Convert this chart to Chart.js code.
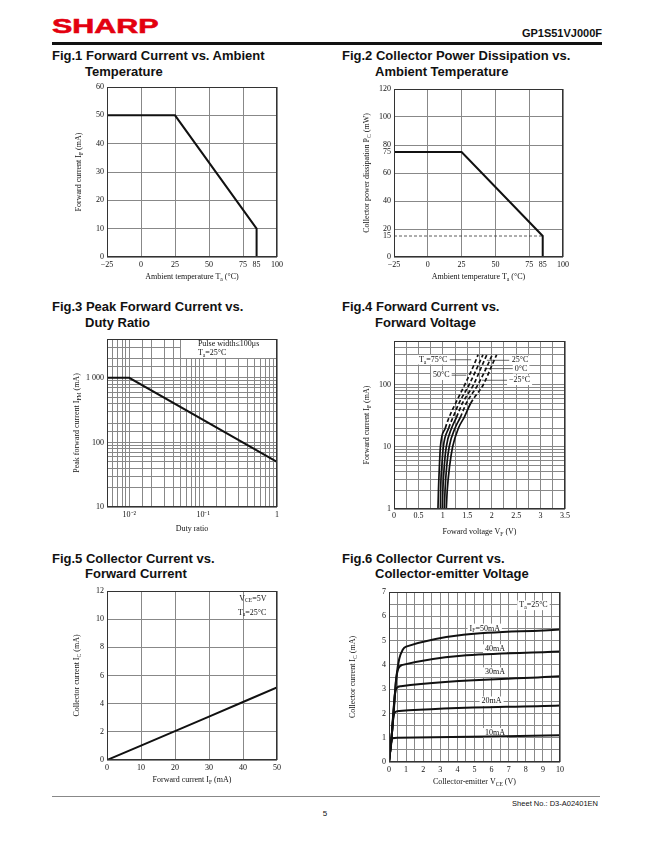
<!DOCTYPE html>
<html>
<head>
<meta charset="utf-8">
<script src="https://cdn.jsdelivr.net/npm/chart.js@4.4.1/dist/chart.umd.min.js"></script>
<style>
  body { margin: 0; background: #fff; width: 650px; height: 841px; position: relative; overflow: hidden;
         font-family: "Liberation Sans", Arial, sans-serif; }
  .abs { position: absolute; white-space: nowrap; }
  .ttl { font-size: 13px; line-height: 13px; font-weight: bold; color: #111; }
  canvas { position: absolute; }
</style>
</head>
<body>
<div class="abs" style="left:52px;top:15px;font-size:21px;line-height:21px;font-weight:bold;color:#e3000f;-webkit-text-stroke:0.6px #e3000f;transform:scaleX(1.45);transform-origin:0 0;">SHARP</div>
<div class="abs" style="right:48px;top:27.5px;font-size:11px;line-height:11px;font-weight:bold;color:#111;">GP1S51VJ000F</div>
<div class="abs" style="left:52px;top:42px;width:550px;height:3px;background:#111;"></div>

<div class="abs ttl" style="left:52px;top:48.5px">Fig.1 Forward Current vs. Ambient</div>
<div class="abs ttl" style="left:85px;top:64.5px">Temperature</div>
<div class="abs ttl" style="left:342px;top:48.5px">Fig.2 Collector Power Dissipation vs.</div>
<div class="abs ttl" style="left:375px;top:64.5px">Ambient Temperature</div>
<div class="abs ttl" style="left:52px;top:300px">Fig.3 Peak Forward Current vs.</div>
<div class="abs ttl" style="left:85px;top:315.5px">Duty Ratio</div>
<div class="abs ttl" style="left:342px;top:300px">Fig.4 Forward Current vs.</div>
<div class="abs ttl" style="left:375px;top:315.5px">Forward Voltage</div>
<div class="abs ttl" style="left:52px;top:551.5px">Fig.5 Collector Current vs.</div>
<div class="abs ttl" style="left:85px;top:567px">Forward Current</div>
<div class="abs ttl" style="left:342px;top:551.5px">Fig.6 Collector Current vs.</div>
<div class="abs ttl" style="left:375px;top:567px">Collector-emitter Voltage</div>

<canvas id="fig1"></canvas>
<canvas id="fig2"></canvas>
<canvas id="fig3"></canvas>
<canvas id="fig4"></canvas>
<canvas id="fig5"></canvas>
<canvas id="fig6"></canvas>

<div class="abs" style="left:52px;top:796px;width:548px;height:1px;background:#888;"></div>
<div class="abs" style="right:52px;top:800px;font-size:7.5px;line-height:8px;color:#111;">Sheet No.: D3-A02401EN</div>
<div class="abs" style="left:0;width:650px;text-align:center;top:810px;font-size:8px;line-height:8px;color:#111;">5</div>

<script>
// Fig.1 forward current derating
const f1Temp = [-25, 25, 85, 85];
const f1Current = [50, 50, 10, 0];
const tempTicks = [-25, 0, 25, 50, 75, 85, 100];

// Fig.2 collector power dissipation derating
const f2Temp = [-25, 25, 85, 85];
const f2Power = [75, 75, 15, 0];
const f2PowerTicks = [0, 15, 20, 40, 60, 75, 80, 100, 120];
const f2LimitTemp = [-25, 85];
const f2LimitPower = [15, 15];

// Fig.3 peak forward current vs duty ratio
const f3Duty = [0.005, 0.01, 1];
const f3Peak = [1000, 1000, 50];

// Fig.4 forward current vs forward voltage
const f4Current = [1, 2, 5, 10, 20, 30, 50, 100, 200, 300];
const f4Temps = ['75', '50', '25', '0', '-25'];
const f4V75 = [0.90, 0.91, 0.93, 0.95, 1.05, 1.13, 1.26, 1.45, 1.63, 1.72];
const f4V50 = [0.95, 0.955, 0.98, 1.01, 1.12, 1.21, 1.33, 1.54, 1.72, 1.82];
const f4V25 = [0.99, 1.00, 1.03, 1.07, 1.18, 1.28, 1.40, 1.63, 1.80, 1.90];
const f4V0 = [1.03, 1.045, 1.08, 1.13, 1.25, 1.36, 1.48, 1.72, 1.91, 2.01];
const f4Vm25 = [1.07, 1.09, 1.14, 1.20, 1.32, 1.44, 1.57, 1.83, 2.00, 2.10];
const f4DashFrom = [20, 20, 30, 30, 50];

// Fig.5 collector current vs forward current
const f5If = [0, 10, 20, 30, 40, 50];
const f5Ic = [0, 1.02, 2.05, 3.08, 4.12, 5.15];

// Fig.6 collector current vs collector-emitter voltage
const f6Labels = ['I_{F}=50mA', '40mA', '30mA', '20mA', '10mA'];
const f6V50 = [0, 0.15, 0.3, 0.45, 0.6, 0.8, 1.0, 10];
const f6I50 = [0, 1.0, 2.4, 3.6, 4.25, 4.62, 4.75, 5.46];
const f6V40 = [0, 0.15, 0.3, 0.4, 0.55, 0.8, 10];
const f6I40 = [0, 1.0, 2.3, 3.3, 3.85, 4.0, 4.55];
const f6V30 = [0, 0.15, 0.25, 0.35, 0.45, 0.7, 10];
const f6I30 = [0, 1.0, 2.0, 2.8, 3.05, 3.12, 3.53];
const f6V20 = [0, 0.15, 0.25, 0.35, 0.6, 10];
const f6I20 = [0, 1.0, 1.8, 2.05, 2.1, 2.33];
const f6V10 = [0, 0.1, 0.2, 0.5, 10];
const f6I10 = [0, 0.6, 0.98, 1.0, 1.1];

const SERIF = '"Liberation Serif", "Times New Roman", serif';
const GRID = '#888';
const FRAME = '#333';
const INK = '#111';

Chart.defaults.font.family = SERIF;
Chart.defaults.font.size = 8;
Chart.defaults.color = INK;
Chart.defaults.animation = false;
Chart.defaults.plugins.legend.display = false;
Chart.defaults.plugins.tooltip.enabled = false;

// "I_{F} (mA)" -> [['I'], ['F', true], [' (mA)']]
function parseRich(s) {
  const out = [];
  s.split(/(_\{[^}]*\})/).forEach(p => {
    if (!p) return;
    if (p.startsWith('_{')) out.push([p.slice(2, -1), true]);
    else out.push([p, false]);
  });
  return out;
}

function drawRich(ctx, text, x, y, opt) {
  const size = opt.size || 8;
  const parts = parseRich(text);
  ctx.save();
  ctx.translate(x, y);
  if (opt.rotate) ctx.rotate(-Math.PI / 2);
  let w = 0;
  parts.forEach(p => {
    ctx.font = (p[1] ? size * 0.7 : size) + 'px ' + SERIF;
    w += ctx.measureText(p[0]).width;
  });
  let cx = opt.align === 'left' ? 0 : opt.align === 'right' ? -w : -w / 2;
  if (opt.bg) {
    ctx.fillStyle = '#fff';
    ctx.fillRect(cx - 2, -size * 0.6, w + 4, size * 1.2);
  }
  ctx.fillStyle = INK;
  ctx.textBaseline = 'middle';
  ctx.textAlign = 'left';
  parts.forEach(p => {
    ctx.font = (p[1] ? size * 0.7 : size) + 'px ' + SERIF;
    ctx.fillText(p[0], cx, p[1] ? size * 0.3 : 0);
    cx += ctx.measureText(p[0]).width;
  });
  ctx.restore();
}

// Frame, axis titles and in-plot notes
Chart.register({
  id: 'sheet',
  beforeDatasetsDraw(chart, args, o) {
    const ctx = chart.ctx, xs = chart.scales.x, ys = chart.scales.y, a = chart.chartArea;
    (o.boxes || []).forEach(b => {
      const x1 = Math.round(xs.getPixelForValue(b[0]) - 0.5) + 1;
      const y2 = Math.round(ys.getPixelForValue(b[1]) - 0.5);
      ctx.fillStyle = '#fff';
      ctx.fillRect(x1, a.top, a.right - x1, y2 - a.top);
    });
    (o.notes || []).forEach(n => {
      const px = xs.getPixelForValue(n.x), py = ys.getPixelForValue(n.y);
      if (n.leader) {
        ctx.save();
        ctx.strokeStyle = '#444';
        ctx.lineWidth = 0.8;
        ctx.beginPath();
        ctx.moveTo(xs.getPixelForValue(n.leader[0]), py);
        ctx.lineTo(xs.getPixelForValue(n.leader[1]), py);
        ctx.stroke();
        ctx.restore();
      }
      drawRich(ctx, n.text, px, py, {align: n.align || 'center', bg: n.bg});
    });
  },
  afterDraw(chart, args, o) {
    const ctx = chart.ctx, a = chart.chartArea;
    ctx.save();
    ctx.strokeStyle = FRAME;
    ctx.lineWidth = 1;
    ctx.strokeRect(Math.round(a.left) + 0.5, Math.round(a.top) + 0.5,
                   Math.round(a.right - a.left) - 1, Math.round(a.bottom - a.top) - 1);
    ctx.restore();
    if (o.xTitle) drawRich(ctx, o.xTitle, (a.left + a.right) / 2, a.bottom + o.xOff, {});
    if (o.yTitle) drawRich(ctx, o.yTitle, a.left - o.yOff, (a.top + a.bottom) / 2, {rotate: true});
  }
});

const pts = (xs, ys) => xs.map((x, i) => ({x: x, y: ys[i]}));
const minus = v => (v < 0 ? '\u2212' + (-v) : String(v));
const isDecade = v => Math.abs(Math.log10(v) - Math.round(Math.log10(v))) < 1e-6;

function axis(o) {
  const a = {
    type: o.type || 'linear',
    min: o.min,
    max: o.max,
    grid: {color: o.gridColor || GRID, lineWidth: 1, drawTicks: false},
    border: {display: false},
    ticks: {
      padding: o.pad == null ? 3 : o.pad,
      autoSkip: false,
      maxRotation: 0,
      font: {size: 8},
      color: INK,
      callback: o.label || (v => String(v))
    }
  };
  if (o.step) a.ticks.stepSize = o.step;
  if (o.values) a.afterBuildTicks = s => { s.ticks = o.values.map(v => ({value: v})); };
  return a;
}

function line(data, extra) {
  return Object.assign({
    data: data, showLine: true, pointRadius: 0, borderColor: INK,
    borderWidth: 2, fill: false, tension: 0
  }, extra || {});
}

function makeChart(id, box, plot, cfg) {
  const cv = document.getElementById(id);
  cv.width = box.r - box.l;
  cv.height = box.b - box.t;
  cv.style.left = box.l + 'px';
  cv.style.top = box.t + 'px';
  cv.style.width = cv.width + 'px';
  cv.style.height = cv.height + 'px';
  cfg.options.responsive = false;
  cfg.options.layout = {padding: {left: 0, top: plot.t - box.t, right: box.r - plot.r, bottom: 0}};
  cfg.options.scales.x.afterFit = s => { s.height = box.b - plot.b; };
  cfg.options.scales.y.afterFit = s => { s.width = plot.l - box.l; };
  return new Chart(cv, cfg);
}

const hide85 = c => (c.tick && c.tick.value === 85 ? 'rgba(0,0,0,0)' : GRID);

// Fig.1
makeChart('fig1', {l: 40, t: 76, r: 300, b: 292}, {l: 107, t: 87, r: 277, b: 257}, {
  type: 'scatter',
  data: {datasets: [line(pts(f1Temp, f1Current))]},
  options: {
    scales: {
      x: axis({min: -25, max: 100, values: tempTicks, label: minus, gridColor: hide85}),
      y: axis({min: 0, max: 60, step: 10})
    },
    plugins: {sheet: {xTitle: 'Ambient temperature T_{a} (\u00b0C)', xOff: 20, yTitle: 'Forward current I_{F} (mA)', yOff: 28}}
  }
});

// Fig.2
makeChart('fig2', {l: 330, t: 76, r: 600, b: 292}, {l: 394, t: 89, r: 563, b: 257}, {
  type: 'scatter',
  data: {datasets: [
    line(pts(f2LimitTemp, f2LimitPower), {borderWidth: 0.8, borderDash: [3, 2], borderColor: '#333'}),
    line(pts(f2Temp, f2Power))
  ]},
  options: {
    scales: {
      x: axis({min: -25, max: 100, values: tempTicks, label: minus, gridColor: hide85}),
      y: axis({min: 0, max: 120, values: f2PowerTicks,
               gridColor: c => (c.tick && (c.tick.value === 15 || c.tick.value === 75) ? 'rgba(0,0,0,0)' : GRID)})
    },
    plugins: {sheet: {xTitle: 'Ambient temperature T_{a} (\u00b0C)', xOff: 20, yTitle: 'Collector power dissipation P_{C} (mW)', yOff: 27}}
  }
});

// Fig.3
makeChart('fig3', {l: 40, t: 330, r: 300, b: 545}, {l: 107, t: 339, r: 277, b: 507}, {
  type: 'scatter',
  data: {datasets: [line(pts(f3Duty, f3Peak))]},
  options: {
    scales: {
      x: axis({type: 'logarithmic', min: 0.005, max: 1,
               label: v => (!isDecade(v) ? '' : v >= 0.99 ? '1' : v > 0.09 ? '10\u207b\u00b9' : '10\u207b\u00b2')}),
      y: axis({type: 'logarithmic', min: 10, max: 4000,
               label: v => (v === 10 ? '10' : v === 100 ? '100' : v === 1000 ? '1 000' : '')})
    },
    plugins: {sheet: {
      xTitle: 'Duty ratio', xOff: 22, yTitle: 'Peak forward current I_{FM} (mA)', yOff: 30,
      boxes: [[0.05, 2000]],
      notes: [
        {x: 0.085, y: 3400, text: 'Pulse width\u2264100\u03bcs', align: 'left'},
        {x: 0.085, y: 2450, text: 'T_{a}=25\u00b0C', align: 'left'}
      ]
    }}
  }
});

// Fig.4
const f4Series = [f4V75, f4V50, f4V25, f4V0, f4Vm25];
makeChart('fig4', {l: 330, t: 330, r: 600, b: 545}, {l: 394, t: 341, r: 565, b: 509}, {
  type: 'scatter',
  data: {datasets: f4Series.map((vs, k) => line(pts(vs, f4Current), {
    label: f4Temps[k], borderWidth: 1.7, cubicInterpolationMode: 'monotone',
    segment: {borderDash: c => (c.p0.parsed.y >= f4DashFrom[k] - 1e-6 ? [4, 2.5] : undefined)}
  }))},
  options: {
    scales: {
      x: axis({min: 0, max: 3.5, step: 0.25, pad: 2,
               label: v => (Math.abs(v * 2 - Math.round(v * 2)) < 1e-9 ? String(v) : '')}),
      y: axis({type: 'logarithmic', min: 1, max: 500,
               label: v => (v === 1 || v === 10 || v === 100 ? String(v) : '')})
    },
    plugins: {sheet: {
      xTitle: 'Foward voltage V_{F} (V)', xOff: 23, yTitle: 'Forward current I_{F} (mA)', yOff: 27,
      notes: [
        {x: 0.80, y: 250, text: 'T_{a}=75\u00b0C', bg: true, leader: [1.14, 1.58]},
        {x: 0.97, y: 141, text: '50\u00b0C', bg: true, leader: [1.17, 1.48]},
        {x: 2.58, y: 245, text: '25\u00b0C', bg: true, leader: [1.90, 2.36]},
        {x: 2.60, y: 180, text: '0\u00b0C', bg: true, leader: [1.85, 2.46]},
        {x: 2.57, y: 117, text: '\u221225\u00b0C', bg: true, leader: [1.80, 2.36]}
      ]
    }}
  }
});

// Fig.5
makeChart('fig5', {l: 40, t: 580, r: 300, b: 795}, {l: 107, t: 591, r: 277, b: 760}, {
  type: 'scatter',
  data: {datasets: [line(pts(f5If, f5Ic))]},
  options: {
    scales: {
      x: axis({min: 0, max: 50, step: 10}),
      y: axis({min: 0, max: 12, step: 2})
    },
    plugins: {sheet: {
      xTitle: 'Forward current I_{F} (mA)', xOff: 20, yTitle: 'Collector current I_{C} (mA)', yOff: 30,
      notes: [
        {x: 42.9, y: 11.46, text: 'V_{CE}=5V'},
        {x: 42.7, y: 10.47, text: 'T_{a}=25\u00b0C'}
      ]
    }}
  }
});

// Fig.6
const f6Series = [pts(f6V50, f6I50), pts(f6V40, f6I40), pts(f6V30, f6I30), pts(f6V20, f6I20), pts(f6V10, f6I10)];
const f6LabelX = [5.6, 6.2, 6.2, 6.0, 6.2];
const f6LabelY = [5.5, 4.65, 3.7, 2.5, 1.2];
makeChart('fig6', {l: 330, t: 580, r: 600, b: 795}, {l: 389, t: 592, r: 560, b: 762}, {
  type: 'scatter',
  data: {datasets: f6Series.map((d, k) => line(d, {label: f6Labels[k], cubicInterpolationMode: 'monotone'}))},
  options: {
    scales: {
      x: axis({min: 0, max: 10, step: 0.5, label: v => (Number.isInteger(v) ? String(v) : '')}),
      y: axis({min: 0, max: 7, step: 0.5, label: v => (Number.isInteger(v) ? String(v) : '')})
    },
    plugins: {sheet: {
      xTitle: 'Collector-emitter V_{CE} (V)', xOff: 20, yTitle: 'Collector current I_{C} (mA)', yOff: 36,
      notes: f6Labels.map((t, k) => ({x: f6LabelX[k], y: f6LabelY[k], text: t, bg: true}))
        .concat([{x: 8.45, y: 6.45, text: 'T_{a}=25\u00b0C', bg: true}])
    }}
  }
});
</script>
</body>
</html>
